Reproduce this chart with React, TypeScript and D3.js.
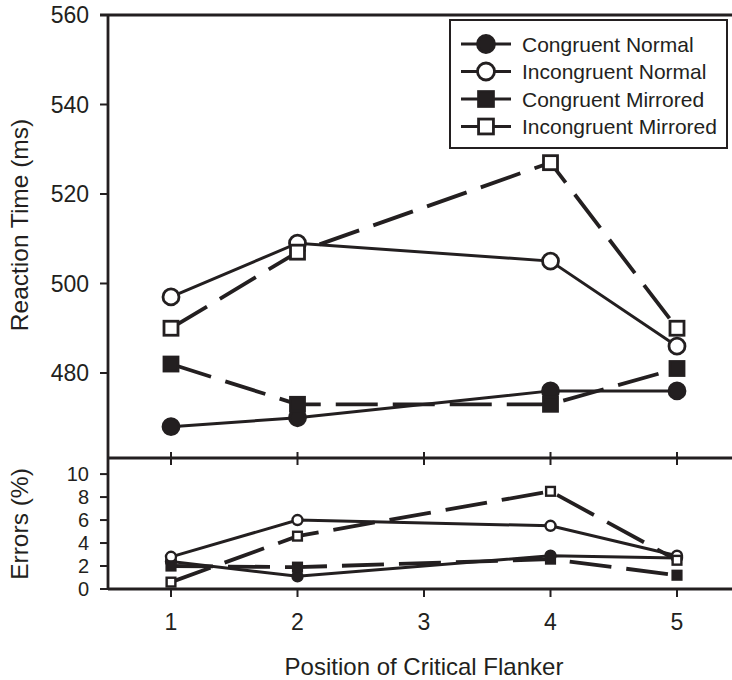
import React, { useEffect, useRef } from 'react'
import * as d3 from 'd3'

// flanker positions that were tested (3 was not)
const positions = [1, 2, 4, 5]
const xTicks = [1, 2, 3, 4, 5]
const rtTicks = [480, 500, 520, 540, 560]
const errTicks = [0, 2, 4, 6, 8, 10]

const seriesNames = ['Congruent Normal', 'Incongruent Normal', 'Congruent Mirrored', 'Incongruent Mirrored']

// reaction time (ms)
const rtCongNormal = [468, 470, 476, 476]
const rtIncongNormal = [497, 509, 505, 486]
const rtCongMirrored = [482, 473, 473, 481]
const rtIncongMirrored = [490, 507, 527, 490]

// errors (%)
const errCongNormal = [2.4, 1.1, 2.9, 2.7]
const errIncongNormal = [2.8, 6.0, 5.5, 2.9]
const errCongMirrored = [2.0, 1.9, 2.6, 1.2]
const errIncongMirrored = [0.6, 4.6, 8.5, 2.5]

const INK = '#231f20'
const FONT = '"Liberation Sans", Arial, Helvetica, sans-serif'

export default function App() {
    const ref = useRef<SVGSVGElement>(null)

    useEffect(() => {
        const svg = d3.select(ref.current)
        svg.selectAll('*').remove()

        const W = 732
        const left = 108
        const topY = 15
        const midY = 458
        const botY = 589

        const x = d3.scaleLinear().domain([1, 5]).range([171, 677])
        const yRt = d3.scaleLinear().domain([461, 560]).range([midY, topY])
        const yErr = d3.scaleLinear().domain([0, 11.4]).range([botY, midY])

        // styles per series
        const styles = [
            { fill: INK, shape: 'circle', dash: null, lw: 3 },
            { fill: 'white', shape: 'circle', dash: null, lw: 3 },
            { fill: INK, shape: 'square', dash: '42,15', lw: 3.8 },
            { fill: 'white', shape: 'square', dash: '42,15', lw: 3.8 },
        ]

        const rtData = [rtCongNormal, rtIncongNormal, rtCongMirrored, rtIncongMirrored]
        const errData = [errCongNormal, errIncongNormal, errCongMirrored, errIncongMirrored]

        const drawMarker = (g: any, cx: number, cy: number, st: any, r: number, sw: number) => {
            if (st.shape === 'circle') {
                g.append('circle').attr('cx', cx).attr('cy', cy).attr('r', r)
                    .attr('fill', st.fill).attr('stroke', INK).attr('stroke-width', sw)
            } else {
                const s = r * 1.75
                g.append('rect').attr('x', cx - s / 2).attr('y', cy - s / 2)
                    .attr('width', s).attr('height', s)
                    .attr('fill', st.fill).attr('stroke', INK).attr('stroke-width', sw)
            }
        }

        // frame lines
        const frame = svg.append('g').attr('stroke', INK).attr('stroke-width', 2.8).attr('fill', 'none')
        frame.append('line').attr('x1', left).attr('x2', left).attr('y1', topY).attr('y2', botY)
        frame.append('line').attr('x1', left - 8).attr('x2', W).attr('y1', topY).attr('y2', topY)
        frame.append('line').attr('x1', left).attr('x2', W).attr('y1', midY).attr('y2', midY)
        frame.append('line').attr('x1', left).attr('x2', W).attr('y1', botY).attr('y2', botY)

        // ticks on the separator line and bottom axis
        xTicks.forEach(t => {
            frame.append('line').attr('x1', x(t)).attr('x2', x(t)).attr('y1', midY - 6).attr('y2', midY + 7)
                .attr('stroke-width', 2)
            frame.append('line').attr('x1', x(t)).attr('x2', x(t)).attr('y1', botY).attr('y2', botY + 8)
                .attr('stroke-width', 2)
        })

        const txt = svg.append('g').attr('font-family', FONT).attr('fill', INK)

        // y ticks
        rtTicks.forEach(t => {
            frame.append('line').attr('x1', left - 8).attr('x2', left).attr('y1', yRt(t)).attr('y2', yRt(t)).attr('stroke-width', 2)
            txt.append('text').attr('x', 89).attr('y', yRt(t)).attr('dy', '0.36em')
                .attr('text-anchor', 'end').attr('font-size', 23).text(t)
        })
        errTicks.forEach(t => {
            frame.append('line').attr('x1', left - 8).attr('x2', left).attr('y1', yErr(t)).attr('y2', yErr(t)).attr('stroke-width', 2)
            txt.append('text').attr('x', 89).attr('y', yErr(t)).attr('dy', '0.36em')
                .attr('text-anchor', 'end').attr('font-size', 20).text(t)
        })
        xTicks.forEach(t => {
            txt.append('text').attr('x', x(t)).attr('y', 630)
                .attr('text-anchor', 'middle').attr('font-size', 23).text(t)
        })

        // axis titles
        txt.append('text').attr('transform', `translate(28,${225}) rotate(-90)`)
            .attr('text-anchor', 'middle').attr('font-size', 24.5).text('Reaction Time (ms)')
        txt.append('text').attr('transform', `translate(28,${524}) rotate(-90)`)
            .attr('text-anchor', 'middle').attr('font-size', 24.5).text('Errors (%)')
        txt.append('text').attr('x', 424).attr('y', 675)
            .attr('text-anchor', 'middle').attr('font-size', 24).text('Position of Critical Flanker')

        // series
        const drawPanel = (data: number[][], y: any, r: number, sw: number) => {
            const g = svg.append('g')
            data.forEach((vals, i) => {
                const st = styles[i]
                const line = d3.line<number>()
                    .x((d, j) => x(positions[j]))
                    .y(d => y(d))
                g.append('path').datum(vals).attr('d', line)
                    .attr('fill', 'none').attr('stroke', INK).attr('stroke-width', st.lw)
                    .attr('stroke-dasharray', st.dash)
                vals.forEach((v, j) => drawMarker(g, x(positions[j]), y(v), st, r, sw))
            })
        }
        drawPanel(rtData, yRt, 8, 2.8)
        drawPanel(errData, yErr, 5, 2.4)

        // legend
        const lg = svg.append('g')
        lg.append('rect').attr('x', 450).attr('y', 20).attr('width', 277).attr('height', 128)
            .attr('fill', 'white').attr('stroke', INK).attr('stroke-width', 2)
        seriesNames.forEach((name, i) => {
            const cy = 44 + i * 27.5
            lg.append('line').attr('x1', 461).attr('x2', 511).attr('y1', cy).attr('y2', cy)
                .attr('stroke', INK).attr('stroke-width', 3.2)
            drawMarker(lg, 486, cy, styles[i], 8.5, 2.8)
            lg.append('text').attr('x', 522).attr('y', cy).attr('dy', '0.36em')
                .attr('font-family', FONT).attr('font-size', 21).attr('fill', INK).text(name)
        })
    }, [])

    return (
        <svg ref={ref} width={732} height={680}
            style={{ position: 'absolute', left: 0, top: 0, background: 'white' }} />
    )
}
